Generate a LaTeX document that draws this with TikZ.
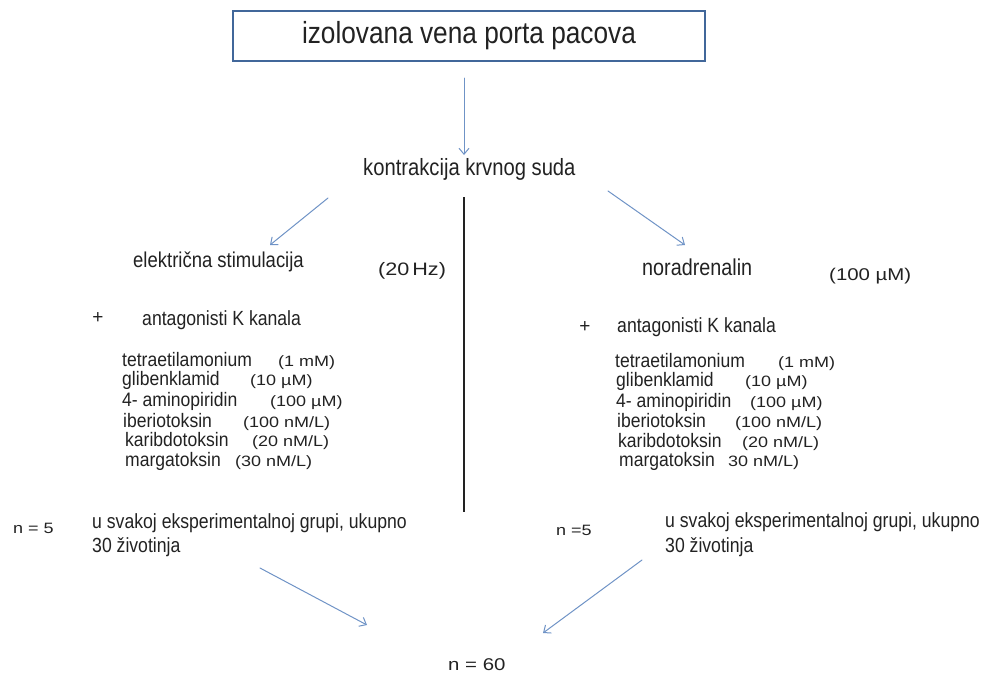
\documentclass[tikz,border=0pt]{standalone}
\usepackage{fontspec}
\setmainfont{Liberation Sans}
\newfontfamily\narrowfont[FakeStretch=0.86]{Liberation Sans}
\newfontfamily\listfont[FakeStretch=0.9]{Liberation Sans}
\newfontfamily\widefont[FakeStretch=1.2]{Liberation Sans}
\usetikzlibrary{arrows.meta, calc}
\definecolor{FlowBlue}{HTML}{6F93C6}
\definecolor{FrameBlue}{HTML}{41679A}
\definecolor{InkGray}{HTML}{222222}
\tikzset{%
  title_block/.style={%
    rectangle,%
    draw=FrameBlue,%
    line width=2.2pt,%
    minimum width=472pt,%
    minimum height=50pt,%
    inner sep=0pt,%
    text=InkGray,%
    font={\narrowfont\fontsize{30.5}{36}\selectfont},%
  },
  name_label/.style={%
    inner sep=0pt,%
    anchor=base west,%
    text=InkGray,%
    font={\narrowfont\fontsize{20.5}{24}\selectfont},%
  },
  list_label/.style={%
    inner sep=0pt,%
    anchor=base west,%
    text=InkGray,%
    font={\listfont\fontsize{19.5}{22}\selectfont},%
  },
  value_label/.style={%
    inner sep=0pt,%
    anchor=base west,%
    text=InkGray,%
    font={\widefont\fontsize{15}{18}\selectfont},%
  },
  flow_path/.style={%
    color=FlowBlue,%
    line width=1pt,%
    line cap=round,%
  },
  divider_path/.style={%
    color=InkGray,%
    line width=1.4pt,%
  },
  arrow/.style={-{Straight Barb[length=6pt, width=10pt]}},
}
\begin{document}
\begin{tikzpicture}[x=1pt, y=-1pt]
  \useasboundingbox (0,0) rectangle (984,675);

    % head of the scheme
    \node [title_block] (Title) at (469,36) {izolovana vena porta pacova};
    \node [name_label, font={\narrowfont\fontsize{23.5}{28}\selectfont}]
      (Contraction) at (363,175) {kontrakcija krvnog suda};

    % two branches
    \node [name_label, font={\narrowfont\fontsize{21.5}{26}\selectfont}]
      (Electric) at (133,267) {električna stimulacija};
    \node [value_label, font={\widefont\fontsize{18}{22}\selectfont}]
      (Freq) at (378,275) {(20\,Hz)};
    \node [name_label, font={\narrowfont\fontsize{23}{27}\selectfont}]
      (Noradr) at (642,275) {noradrenalin};
    \node [value_label, font={\widefont\fontsize{17}{20}\selectfont}]
      (NoradrDose) at (829,280) {(100 µM)};

    % left column of antagonists
    \node [value_label, anchor=center, font={\fontsize{19}{22}\selectfont}]
      (PlusL) at (98,318) {+};
    \node [name_label] (AntagL) at (142,325) {antagonisti K kanala};
    \node [list_label] (TeaL) at (122,366) {tetraetilamonium};
    \node [list_label] (GlibL) at (122,385.5) {glibenklamid};
    \node [list_label] (AminoL) at (122,406) {4- aminopiridin};
    \node [list_label] (IberL) at (123,427) {iberiotoksin};
    \node [list_label] (CharL) at (125,446.5) {karibdotoksin};
    \node [list_label] (MargL) at (125,466) {margatoksin};
    \node [value_label] (TeaDoseL) at (278,366) {(1 mM)};
    \node [value_label] (GlibDoseL) at (250,385.5) {(10 µM)};
    \node [value_label] (AminoDoseL) at (270,406) {(100 µM)};
    \node [value_label] (IberDoseL) at (243,427) {(100 nM/L)};
    \node [value_label] (CharDoseL) at (252,446.5) {(20 nM/L)};
    \node [value_label] (MargDoseL) at (235,466) {(30 nM/L)};

    % right column of antagonists
    \node [value_label, anchor=center, font={\fontsize{19}{22}\selectfont}]
      (PlusR) at (585,327) {+};
    \node [name_label] (AntagR) at (617,332) {antagonisti K kanala};
    \node [list_label] (TeaR) at (615,367) {tetraetilamonium};
    \node [list_label] (GlibR) at (616,386.5) {glibenklamid};
    \node [list_label] (AminoR) at (616,407) {4- aminopiridin};
    \node [list_label] (IberR) at (617,427.5) {iberiotoksin};
    \node [list_label] (CharR) at (618,447) {karibdotoksin};
    \node [list_label] (MargR) at (619,466) {margatoksin};
    \node [value_label] (TeaDoseR) at (778,367) {(1 mM)};
    \node [value_label] (GlibDoseR) at (745,386.5) {(10 µM)};
    \node [value_label] (AminoDoseR) at (750,407) {(100 µM)};
    \node [value_label] (IberDoseR) at (735,427.5) {(100 nM/L)};
    \node [value_label] (CharDoseR) at (742,447) {(20 nM/L)};
    \node [value_label] (MargDoseR) at (728,466) {30 nM/L)};

    % group sizes
    \node [value_label] (CountL) at (13,533) {n = 5};
    \node [name_label] (GroupL1) at (92,528) {u svakoj eksperimentalnoj grupi, ukupno};
    \node [name_label] (GroupL2) at (92,552) {30 životinja};
    \node [value_label] (CountR) at (556,535) {n =5};
    \node [name_label] (GroupR1) at (665,527) {u svakoj eksperimentalnoj grupi, ukupno};
    \node [name_label] (GroupR2) at (665,552) {30 životinja};
    \node [value_label, font={\widefont\fontsize{17}{20}\selectfont}]
      (Total) at (448,670) {n = 60};

    \draw [arrow, flow_path]
      ($(Title.south)+(-5,16)$)
      --
      ($(Contraction.base west)+(101,-20)$);
    \draw [arrow, flow_path]
      ($(Contraction.base west)+(-35,23)$)
      --
      ($(Electric.base west)+(137,-22)$);
    \draw [arrow, flow_path]
      ($(Contraction.base west)+(245,16)$)
      --
      ($(Noradr.base west)+(43,-30)$);
    \draw [arrow, flow_path]
      ($(GroupL2.base west)+(168,16)$)
      --
      ($(Total.base west)+(-81,-45)$);
    \draw [arrow, flow_path]
      ($(GroupR2.base west)+(-23,8)$)
      --
      ($(Total.base west)+(95,-37)$);
    \draw [divider_path] (464,197) -- (464,512);
  \end{tikzpicture}
\end{document}
